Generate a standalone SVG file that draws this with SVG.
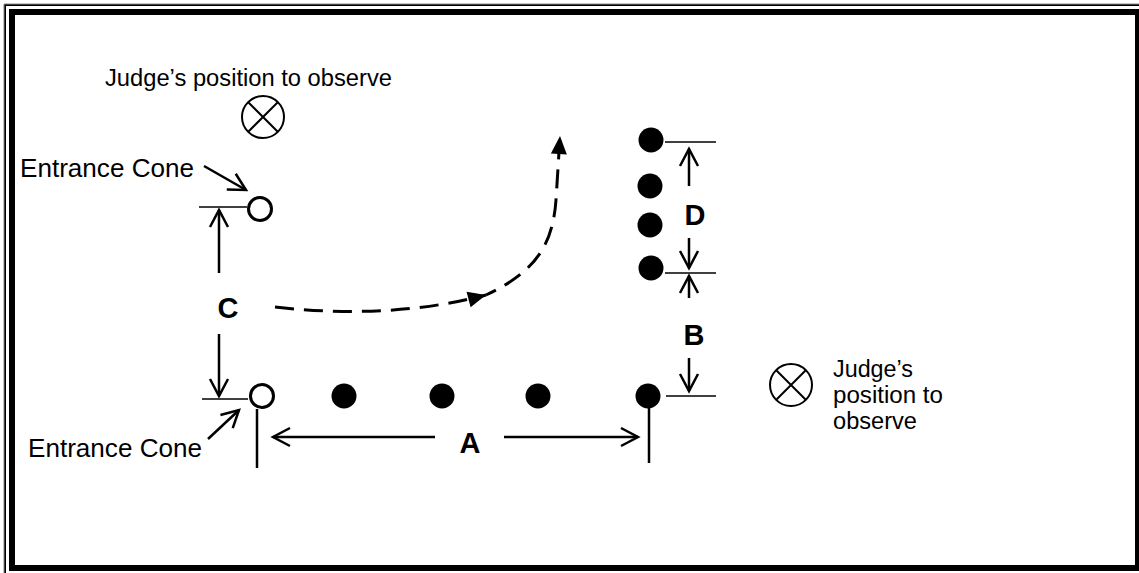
<svg xmlns="http://www.w3.org/2000/svg" width="1139" height="573" viewBox="0 0 1139 573">
<style>
.t{font-family:"Liberation Sans",Arial,sans-serif;fill:#000}
.lbl{font-family:"Liberation Sans",Arial,sans-serif;font-weight:bold;font-size:29px;fill:#000}
.ln{stroke:#000;stroke-width:2.5;fill:none}
.tick{stroke:#000;stroke-width:1.5;fill:none}
.dash{stroke:#000;stroke-width:3;fill:none;stroke-dasharray:19 10}
.dot{fill:#000}
.cone{fill:#fff;stroke:#000;stroke-width:3}
.judge{fill:#fff;stroke:#000;stroke-width:2}
</style>
<defs>
<marker id="open" markerWidth="20" markerHeight="20" refX="18" refY="10" orient="auto" markerUnits="userSpaceOnUse" overflow="visible">
<path d="M1,1 L18,10 L1,19" fill="none" stroke="#000" stroke-width="2.5"/>
</marker>
<marker id="fill" markerWidth="20" markerHeight="16" refX="18" refY="8" orient="auto" markerUnits="userSpaceOnUse" overflow="visible">
<path d="M0,0 L18,8 L0,16 Z" fill="#000"/>
</marker>
</defs>
<rect x="0" y="0" width="1139" height="573" fill="#fff"/>
<g id="border">
<path d="M5,573 V5 H1139" fill="none" stroke="#000" stroke-width="2"/>
<path d="M4,573 V4 H1139" fill="none" stroke="#888" stroke-width="1"/>
<rect x="12" y="12" width="1126" height="556" fill="none" stroke="#000" stroke-width="6"/>
</g>
<g id="connectors">
<path class="ln" d="M204,166 L246,190" marker-end="url(#open)"/>
<path class="ln" d="M208,439 L239,410" marker-end="url(#open)"/>
<path class="tick" d="M199,207 H247"/>
<path class="tick" d="M202,399 H248"/>
<path class="ln" d="M219,273 V210" marker-end="url(#open)"/>
<path class="ln" d="M219,334 V396" marker-end="url(#open)"/>
<path class="ln" d="M257,409 V468"/>
<path class="ln" d="M649,397 V463"/>
<path class="ln" d="M435,437 H273" marker-end="url(#open)"/>
<path class="ln" d="M504,437 H638" marker-end="url(#open)"/>
<path class="tick" d="M665,142 H716"/>
<path class="tick" d="M665,273 H716"/>
<path class="tick" d="M666,396 H716"/>
<path class="ln" d="M689,186 V149" marker-end="url(#open)"/>
<path class="ln" d="M689,238 V268" marker-end="url(#open)"/>
<path class="ln" d="M689,298 V276" marker-end="url(#open)"/>
<path class="ln" d="M689,358 V391" marker-end="url(#open)"/>
<path class="dash" d="M275,307 Q390,320 486,295" marker-end="url(#fill)"/>
<path class="dash" d="M486,295 C540,270 553,240 556,200 L560,136" stroke-dashoffset="8" marker-end="url(#fill)"/>
</g>
<g id="judge-top">
<circle class="judge" cx="263" cy="117" r="21"/>
<path class="judge" d="M248,102 L278,132 M278,102 L248,132"/>
<text class="t" x="105" y="86" font-size="23" textLength="287" lengthAdjust="spacingAndGlyphs">Judge’s position to observe</text>
</g>
<g id="judge-right">
<circle class="judge" cx="791" cy="385" r="21"/>
<path class="judge" d="M776,370 L806,400 M806,370 L776,400"/>
<text class="t" x="833" y="377" font-size="23" textLength="80" lengthAdjust="spacingAndGlyphs">Judge’s</text>
<text class="t" x="833" y="403" font-size="23" textLength="110" lengthAdjust="spacingAndGlyphs">position to</text>
<text class="t" x="833" y="429" font-size="23" textLength="84" lengthAdjust="spacingAndGlyphs">observe</text>
</g>
<g id="cone-top">
<circle class="cone" cx="260" cy="209" r="11.5"/>
<text class="t" x="20" y="177" font-size="25" textLength="174" lengthAdjust="spacingAndGlyphs">Entrance Cone</text>
</g>
<g id="cone-bottom">
<circle class="cone" cx="262" cy="396" r="11.5"/>
<text class="t" x="28" y="457" font-size="25" textLength="174" lengthAdjust="spacingAndGlyphs">Entrance Cone</text>
</g>
<g id="dots-row">
<circle class="dot" cx="344" cy="396" r="12.5"/>
<circle class="dot" cx="442" cy="396" r="12.5"/>
<circle class="dot" cx="538" cy="396" r="12.5"/>
<circle class="dot" cx="648" cy="396" r="12.5"/>
</g>
<g id="dots-column">
<circle class="dot" cx="651" cy="140" r="12.5"/>
<circle class="dot" cx="650" cy="186" r="12.5"/>
<circle class="dot" cx="650" cy="225" r="12.5"/>
<circle class="dot" cx="651" cy="268" r="12.5"/>
</g>
<g id="labels">
<text class="lbl" x="228" y="318" text-anchor="middle">C</text>
<text class="lbl" x="470" y="453" text-anchor="middle">A</text>
<text class="lbl" x="695" y="225" text-anchor="middle">D</text>
<text class="lbl" x="694" y="345" text-anchor="middle">B</text>
</g>
</svg>
